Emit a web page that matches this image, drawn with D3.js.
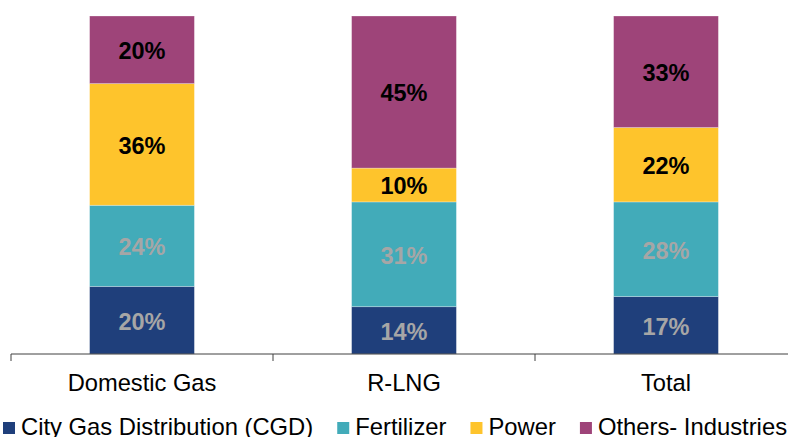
<!DOCTYPE html>
<html>
<head>
<meta charset="utf-8">
<script src="https://cdn.jsdelivr.net/npm/d3@7/dist/d3.min.js"></script>
<style>
  html, body { margin: 0; padding: 0; background: #fff; }
  svg { display: block; font-family: "Liberation Sans", Arial, sans-serif; }
</style>
</head>
<body>
<svg id="chart" width="788" height="437"></svg>
<script>
const categories = ["Domestic Gas", "R-LNG", "Total"];
const seriesNames = ["City Gas Distribution (CGD)", "Fertilizer", "Power", "Others- Industries"];
const cgd = [20, 14, 17];
const fertilizer = [24, 31, 28];
const power = [36, 10, 22];
const others = [20, 45, 33];
const seriesColors = ["#1f3f7b", "#42abb9", "#fec42c", "#9e4479"];
const labelColors = ["#a6a6a6", "#a6a6a6", "#000000", "#000000"];

const svg = d3.select("#chart");
const margin = { left: 11, right: -9, top: 16, bottom: 83 };
const W = 788, H = 437;

const x = d3.scaleBand().domain(categories)
  .range([margin.left, W - margin.right])
  .paddingInner(0.6).paddingOuter(0.3);
const y = d3.scaleLinear().domain([0, 100]).range([H - margin.bottom, margin.top]);

const rows = categories.map((c, i) => ({
  cat: c,
  s0: cgd[i], s1: fertilizer[i], s2: power[i], s3: others[i]
}));
const keys = ["s0", "s1", "s2", "s3"];
const stacked = d3.stack().keys(keys)(rows);

const g = svg.append("g");
stacked.forEach((layer, li) => {
  const lg = g.append("g");
  lg.selectAll("rect").data(layer).join("rect")
    .attr("x", d => x(d.data.cat))
    .attr("width", x.bandwidth())
    .attr("y", d => y(d[1]))
    .attr("height", d => y(d[0]) - y(d[1]))
    .attr("fill", seriesColors[li])
    .attr("stroke", "#ffffff")
    .attr("stroke-opacity", 0.35)
    .attr("stroke-width", 0.8);
  lg.selectAll("text").data(layer).join("text")
    .attr("x", d => x(d.data.cat) + x.bandwidth() / 2)
    .attr("y", d => (y(d[0]) + y(d[1])) / 2)
    .attr("dy", "0.4em")
    .attr("text-anchor", "middle")
    .attr("font-size", "23.5px")
    .attr("font-weight", "bold")
    .attr("fill", labelColors[li])
    .text(d => (d[1] - d[0]) + "%");
});

// axis
const axisY = y(0);
const axis = svg.append("g").attr("transform", `translate(0,${axisY})`);
axis.append("line")
  .attr("x1", x.range()[0]).attr("x2", x.range()[1])
  .attr("y1", 0).attr("y2", 0)
  .attr("stroke", "#404040").attr("stroke-width", 1);
const step = x.step();
d3.range(categories.length + 1).forEach(i => {
  const tx = x.range()[0] + i * step;
  axis.append("line")
    .attr("x1", tx).attr("x2", tx).attr("y1", 0).attr("y2", 7)
    .attr("stroke", "#404040").attr("stroke-width", 1);
});
axis.selectAll("text.cat").data(categories).join("text")
  .attr("class", "cat")
  .attr("x", d => x(d) + x.bandwidth() / 2)
  .attr("y", 37)
  .attr("text-anchor", "middle")
  .attr("font-size", "23.7px")
  .attr("fill", "#000")
  .text(d => d);

// legend
const legend = svg.append("g");
let lx = 3;
seriesNames.forEach((name, i) => {
  legend.append("rect")
    .attr("x", lx).attr("y", 422)
    .attr("width", 12).attr("height", 12)
    .attr("fill", seriesColors[i]);
  const t = legend.append("text")
    .attr("x", lx + 18).attr("y", 435)
    .attr("font-size", "23.8px")
    .attr("fill", "#000")
    .text(name);
  lx = lx + 18 + t.node().getComputedTextLength() + 24;
});
</script>
</body>
</html>
